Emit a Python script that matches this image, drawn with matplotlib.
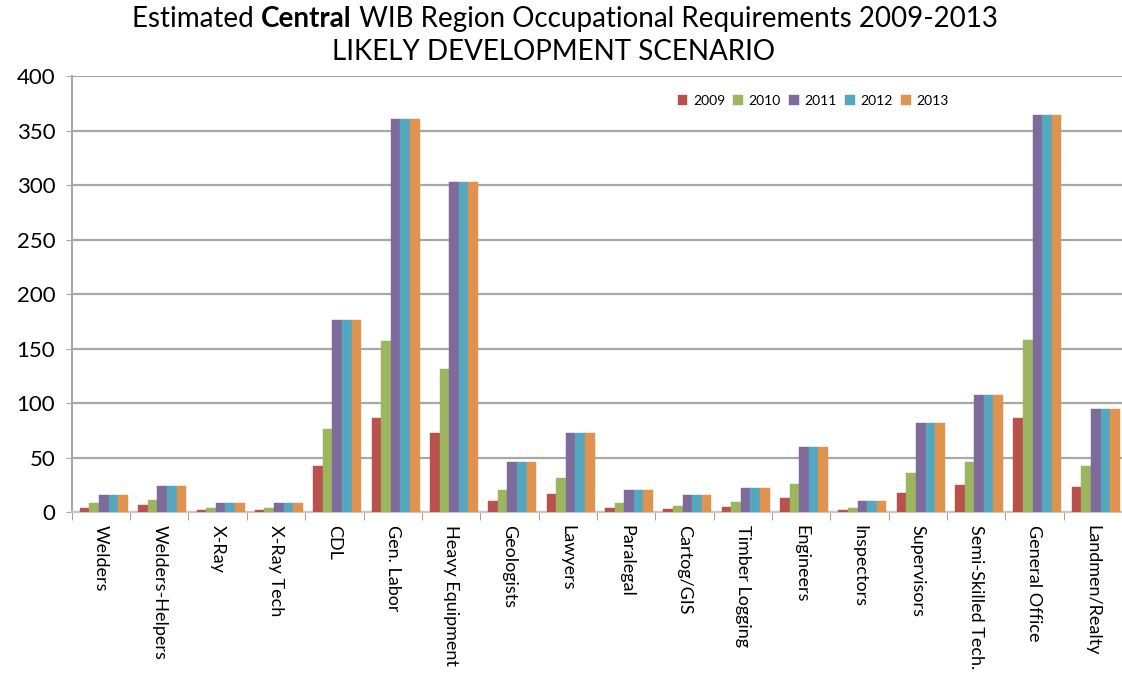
import numpy as np
import matplotlib.pyplot as plt

plt.rcParams['font.family'] = ['Lato', 'DejaVu Sans']

categories = ["Welders", "Welders-Helpers", "X-Ray", "X-Ray Tech", "CDL", "Gen. Labor",
              "Heavy Equipment", "Geologists", "Lawyers", "Paralegal", "Cartog/GIS",
              "Timber Logging", "Engineers", "Inspectors", "Supervisors",
              "Semi-Skilled Tech.", "General Office", "Landmen/Realty"]
years = ["2009", "2010", "2011", "2012", "2013"]
v2009 = [4, 7, 2, 2, 42, 86, 73, 10, 17, 4, 3, 5, 13, 2, 18, 25, 86, 23]
v2010 = [8, 11, 4, 4, 76, 157, 131, 20, 31, 8, 6, 9, 26, 4, 36, 46, 158, 42]
v2011 = [16, 24, 8, 8, 176, 361, 303, 46, 73, 20, 16, 22, 60, 10, 82, 107, 364, 95]
v2012 = [16, 24, 8, 8, 176, 361, 303, 46, 73, 20, 16, 22, 60, 10, 82, 107, 364, 95]
v2013 = [16, 24, 8, 8, 176, 361, 303, 46, 73, 20, 16, 22, 60, 10, 82, 107, 364, 95]
series = [v2009, v2010, v2011, v2012, v2013]
colors = ["#B9524C", "#9CB55F", "#7F6A9C", "#55A7BF", "#E0934F"]

fig = plt.figure(figsize=(11.22, 6.73), dpi=100)
ax = fig.add_axes([0.064, 0.239, 0.936, 0.648])

x = np.arange(len(categories))
w = 0.165
for i, (vals, c) in enumerate(zip(series, colors)):
    ax.bar(x + 0.05 + (i - 2) * w, vals, w, color=c, label=years[i],
           edgecolor=c, linewidth=0.3, zorder=3)

ax.set_xlim(-0.5, 17.45)
ax.set_ylim(0, 400)
ax.set_yticks(range(0, 401, 50))
ax.grid(axis='y', color='#A8A8A8', linewidth=1.6, zorder=0)
for s in ['top', 'right']:
    ax.spines[s].set_visible(False)
ax.spines['left'].set_color('#A8A8A8')
ax.spines['bottom'].set_color('#C8C8C8')
ax.spines['left'].set_linewidth(1.5)
ax.spines['bottom'].set_linewidth(1.5)
ax.tick_params(axis='y', labelsize=16, length=4, color='#A8A8A8', pad=8)

ax.set_xticks(x)
ax.set_xticklabels(categories, rotation=270, fontsize=13, va='top', ha='center')
ax.tick_params(axis='x', length=0, pad=9)
ax.set_xticks(np.arange(-0.5, 17.6, 1), minor=True)
ax.tick_params(axis='x', which='minor', length=6, color='#909090')

ax.legend(loc='upper left', bbox_to_anchor=(0.565, 0.985), ncol=5, frameon=False,
          fontsize=10, handlelength=0.7, handleheight=0.7, columnspacing=0.6,
          handletextpad=0.4)

# title with bold word
fig.canvas.draw()
r = fig.canvas.get_renderer()
parts = [("Estimated ", 'normal'), ("Central", 'bold'),
         (" WIB Region Occupational Requirements 2009-2013", 'normal')]
texts = [fig.text(0, 0.972, p, fontsize=20, weight=wt, va='center') for p, wt in parts]
widths = [t.get_window_extent(r).width for t in texts]
start = 565 - sum(widths) / 2
for t, wd in zip(texts, widths):
    t.set_x(start / 1122)
    start += wd
fig.text(553 / 1122, 0.923, "LIKELY DEVELOPMENT SCENARIO", fontsize=20,
         ha='center', va='center')

fig.savefig("out.png", dpi=100)
